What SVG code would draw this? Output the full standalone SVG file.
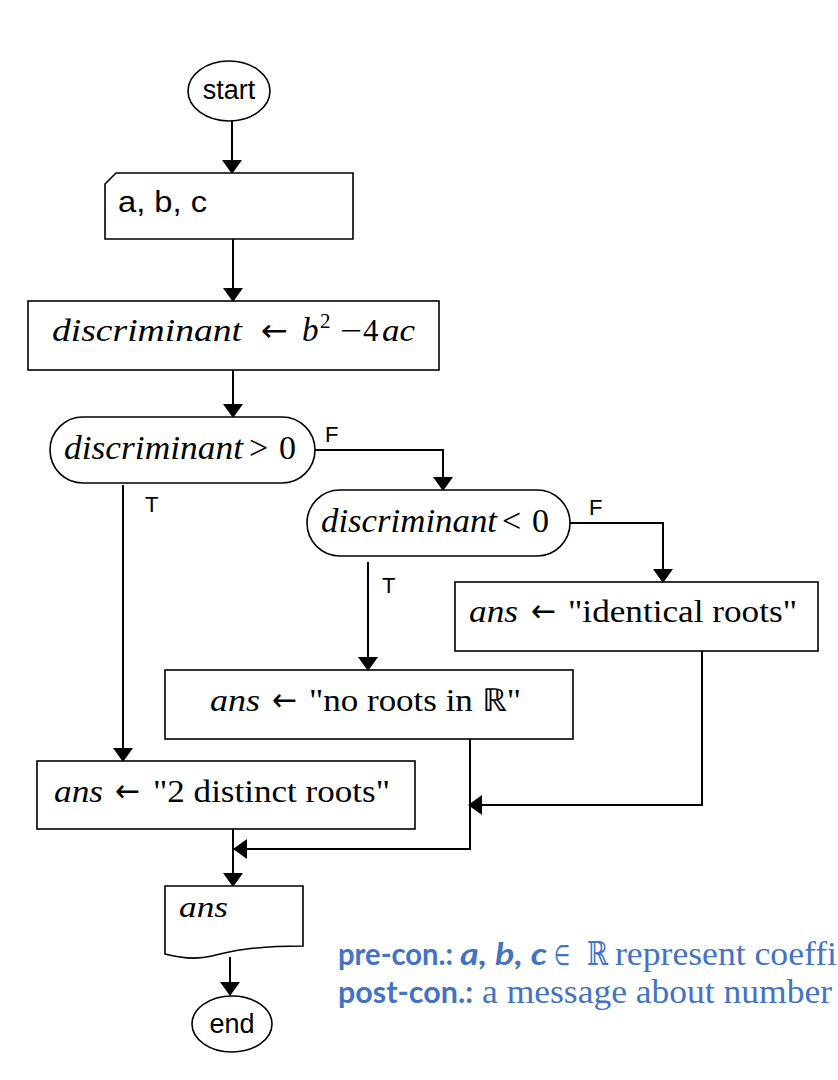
<svg xmlns="http://www.w3.org/2000/svg" width="838" height="1080" viewBox="0 0 838 1080">
<style>
.shape{fill:#fff;stroke:#000;stroke-width:1.6}
.conn{fill:none;stroke:#000;stroke-width:2}
.sans{font-family:"Liberation Sans",Arial,sans-serif;fill:#000}
.serif{font-family:"Liberation Serif","Times New Roman",serif;fill:#000}
.it{font-style:italic}
.arr{font-family:"DejaVu Sans",sans-serif;font-style:normal}
.lbl{font-family:"Liberation Sans",Arial,sans-serif;font-size:22px;fill:#000}
.blueb{font-family:Lato,"Noto Sans",sans-serif;font-weight:bold;fill:#4472C4;font-size:31px}
.blues{font-family:"Liberation Serif","DejaVu Serif",serif;fill:#4472C4;font-size:33px}
.elem{font-family:"DejaVu Sans",sans-serif;fill:#4472C4;font-size:28px}
</style>
<defs>
<marker id="ah" markerUnits="userSpaceOnUse" markerWidth="15" markerHeight="22" refX="13" refY="10" orient="auto">
<path d="M0,0 L14,10 L0,20 Z" fill="#000"/>
</marker>
</defs>
<rect width="838" height="1080" fill="#fff"/>

<g id="connectors">
<path class="conn" d="M232,121 V173" marker-end="url(#ah)"/>
<path class="conn" d="M233,239 V301" marker-end="url(#ah)"/>
<path class="conn" d="M233,370 V417" marker-end="url(#ah)"/>
<path class="conn" d="M315,450 H443 V490" marker-end="url(#ah)"/>
<path class="conn" d="M123,485 V761" marker-end="url(#ah)"/>
<path class="conn" d="M570,523 H663 V582" marker-end="url(#ah)"/>
<path class="conn" d="M368,562 V670" marker-end="url(#ah)"/>
<path class="conn" d="M702,651 V805 H469" marker-end="url(#ah)"/>
<path class="conn" d="M470,739 V849 H234" marker-end="url(#ah)"/>
<path class="conn" d="M233,829 V886" marker-end="url(#ah)"/>
<path class="conn" d="M230,957 V995" marker-end="url(#ah)"/>
<text class="lbl" x="325" y="442">F</text>
<text class="lbl" x="145" y="512">T</text>
<text class="lbl" x="589" y="515">F</text>
<text class="lbl" x="382" y="593">T</text>
</g>

<g id="start">
<ellipse class="shape" cx="229" cy="91" rx="41" ry="30"/>
<text class="sans" x="229" y="99" font-size="27" text-anchor="middle">start</text>
</g>

<g id="input">
<path class="shape" d="M116,173 H353 V239 H105 V184 Z"/>
<text class="sans" x="118" y="212" font-size="30" textLength="89" lengthAdjust="spacingAndGlyphs">a, b, c</text>
</g>

<g id="compute">
<rect class="shape" x="28" y="301" width="411" height="69"/>
<text class="serif" y="341" font-size="31">
<tspan class="it" x="52" textLength="190" lengthAdjust="spacingAndGlyphs">discriminant</tspan>
<tspan class="arr" x="261" textLength="27" lengthAdjust="spacingAndGlyphs">←</tspan>
<tspan class="it" x="302" font-size="33">b</tspan>
<tspan x="320" y="328" font-size="21">2</tspan>
<tspan x="340" y="341" textLength="22" lengthAdjust="spacingAndGlyphs">−</tspan>
<tspan x="363">4</tspan>
<tspan class="it" x="382" textLength="33" lengthAdjust="spacingAndGlyphs">ac</tspan>
</text>
</g>

<g id="decision1">
<rect class="shape" x="50" y="417" width="265" height="66" rx="33" ry="33"/>
<text class="serif" y="459" font-size="34">
<tspan class="it" x="64" textLength="179" lengthAdjust="spacingAndGlyphs">discriminant</tspan>
<tspan x="249">&gt;</tspan>
<tspan x="279">0</tspan>
</text>
</g>

<g id="decision2">
<rect class="shape" x="307" y="490" width="263" height="66" rx="33" ry="33"/>
<text class="serif" y="532" font-size="34">
<tspan class="it" x="321" textLength="176" lengthAdjust="spacingAndGlyphs">discriminant</tspan>
<tspan x="502">&lt;</tspan>
<tspan x="532">0</tspan>
</text>
</g>

<g id="identical">
<rect class="shape" x="455" y="582" width="363" height="69"/>
<text class="serif" y="622" font-size="32">
<tspan class="it" x="469" textLength="49" lengthAdjust="spacingAndGlyphs">ans</tspan>
<tspan class="arr" x="531" textLength="25" lengthAdjust="spacingAndGlyphs">←</tspan>
<tspan x="568" textLength="229" lengthAdjust="spacingAndGlyphs">"identical roots"</tspan>
</text>
</g>

<g id="noroots">
<rect class="shape" x="165" y="670" width="408" height="69"/>
<text class="serif" y="711" font-size="32">
<tspan class="it" x="210" textLength="50" lengthAdjust="spacingAndGlyphs">ans</tspan>
<tspan class="arr" x="272" textLength="25" lengthAdjust="spacingAndGlyphs">←</tspan>
<tspan x="309" textLength="212" lengthAdjust="spacingAndGlyphs">"no roots in ℝ"</tspan>
</text>
</g>

<g id="distinct">
<rect class="shape" x="37" y="761" width="378" height="68"/>
<text class="serif" y="802" font-size="32">
<tspan class="it" x="54" textLength="49" lengthAdjust="spacingAndGlyphs">ans</tspan>
<tspan class="arr" x="115" textLength="25" lengthAdjust="spacingAndGlyphs">←</tspan>
<tspan x="153" textLength="237" lengthAdjust="spacingAndGlyphs">"2 distinct roots"</tspan>
</text>
</g>

<g id="output">
<path class="shape" d="M165,886 H303 V946 C250,946 228,952 212,956 C196,960 180,958 165,954 Z"/>
<text class="serif it" x="179" y="917" font-size="30" textLength="49" lengthAdjust="spacingAndGlyphs">ans</text>
</g>

<g id="end">
<ellipse class="shape" cx="232" cy="1024" rx="40" ry="28"/>
<text class="sans" x="232" y="1033" font-size="27" text-anchor="middle">end</text>
</g>

<g id="conditions">
<text y="965">
<tspan class="blueb" x="338" textLength="115" lengthAdjust="spacingAndGlyphs">pre-con.:</tspan>
<tspan class="blueb" font-style="italic" x="460" textLength="87" lengthAdjust="spacingAndGlyphs">a, b, c</tspan>
<tspan class="elem" x="554" textLength="16" lengthAdjust="spacingAndGlyphs">∈</tspan>
<tspan class="blues" x="587" textLength="21" lengthAdjust="spacingAndGlyphs">ℝ</tspan>
<tspan class="blues" x="615" textLength="222" lengthAdjust="spacingAndGlyphs">represent coeffi</tspan>
</text>
<text y="1003">
<tspan class="blueb" x="338" textLength="135" lengthAdjust="spacingAndGlyphs">post-con.:</tspan>
<tspan class="blues" x="482" textLength="350" lengthAdjust="spacingAndGlyphs">a message about number</tspan>
</text>
</g>
</svg>
